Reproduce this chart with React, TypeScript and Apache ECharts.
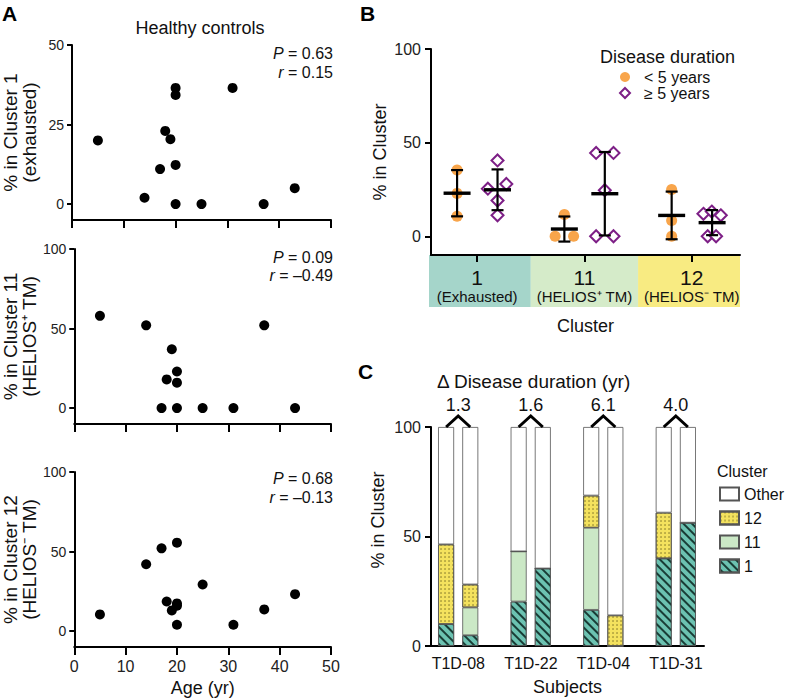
import React, { useEffect, useRef } from 'react';
import * as echarts from 'echarts';

const FONT = '"Liberation Sans", Arial, Helvetica, sans-serif';

// ---------- Panel A : healthy controls ----------
const ageA1 = [5, 14, 17, 18, 19, 20, 20, 20, 20, 25, 31, 37, 43];
const pctA1 = [20, 2, 11, 23, 20.4, 36.5, 34.3, 12.3, 0, 0, 36.5, 0, 5];
const ageA2 = [5, 14, 17, 18, 19, 20, 20, 20, 25, 31, 37, 43];
const pctA2 = [58, 52, 0, 18, 37, 23, 16, 0, 0, 0, 52, 0];
const ageA3 = [5, 14, 17, 18, 19, 20, 20, 20, 20, 25, 31, 37, 43];
const pctA3 = [10.5, 42, 52, 18.6, 13, 55.6, 17.4, 16, 4, 29.3, 4, 13.6, 23.2];
const pValuesA = ['0.63', '0.09', '0.68'];
const rValuesA = ['0.15', '–0.49', '–0.13'];
const yTitlesA = ['% in Cluster 1\n(exhausted)', '% in Cluster 11\n(HELIOS⁺ TM)', '% in Cluster 12\n(HELIOS⁻ TM)'];

// ---------- Panel B : clusters by disease duration ----------
const clusterNames = ['1', '11', '12'];
const clusterSubtitles = ['(Exhausted)', '(HELIOS⁺ TM)', '(HELIOS⁻ TM)'];
const shortDuration = [[35.4, 22.9, 10.7], [0, 0, 11.6], [25, 8.4, 0]];
const shortJitter = [[0, 0, 0], [-0.086, 0.086, 0], [0, 0, 0]];
const longDuration = [[25.4, 40.5, 27.9, 19.1, 11.2], [0, 0, 44.5, 44.5, 24.6], [12, 13.2, 11.2, 0, 0]];
const longJitter = [[-0.09, 0, 0.082, 0, 0], [-0.081, 0.081, -0.081, 0.081, 0], [-0.081, -0.003, 0.081, -0.041, 0.037]];
const bandColors = ['#a5d5ca', '#d5ebc9', '#f8eb82'];

// ---------- Panel C : longitudinal subjects ----------
const subjects = ['T1D-08', 'T1D-22', 'T1D-04', 'T1D-31'];
const durationChange = ['1.3', '1.6', '6.1', '4.0'];
// order: subject0 visit1, subject0 visit2, subject1 visit1, ...
const c1Values = [10, 4.9, 20.3, 35.4, 16.5, 0, 40, 56.3];
const c11Values = [0, 12.7, 22.9, 0, 37.5, 0, 0, 0];
const c12Values = [36.4, 10.5, 0, 0, 14.7, 14, 20.9, 0];
const otherValues = [53.6, 71.9, 56.8, 64.6, 31.3, 86, 39.1, 43.7];

const ORANGE = '#f8a54b';
const PURPLE = '#7d1f86';

function meanSd(a: number[]) {
  const m = a.reduce((s, v) => s + v, 0) / a.length;
  const v = a.reduce((s, x) => s + (x - m) * (x - m), 0) / (a.length - 1);
  return [m, Math.sqrt(v)];
}

function buildOption() {
  const axisLine = { show: true, onZero: false, lineStyle: { color: '#000', width: 2 } };
  const tick = (len: number) => ({ show: true, inside: false, length: len, lineStyle: { color: '#000', width: 2 } });
  const labelA = { color: '#222', fontSize: 14, fontFamily: FONT, margin: 8 };
  const nameStyle = { color: '#111', fontSize: 18, fontFamily: FONT, lineHeight: 19 };

  // slot layout for panel C: two visits per subject, one empty slot between subjects
  const slotCount = subjects.length * 3 - 1;
  const slotNames = Array.from({ length: slotCount }, (_, i) => 's' + i);
  const barSlot = (k: number) => Math.floor(k / 2) * 3 + (k % 2);

  const grids = [
    { left: 69, top: 45, width: 262, height: 175 },
    { left: 69, top: 249, width: 262, height: 175 },
    { left: 69, top: 472, width: 262, height: 175 },
    { left: 431, top: 49, width: 309, height: 206 },
    { left: 431, top: 255, width: 309, height: 52 },
    { left: 431, top: 427, width: 273, height: 219 },
    { left: 434, top: 427, width: 266, height: 219 },
  ];

  const xAxes: any[] = [0, 1, 2].map((i) => ({
    type: 'value', gridIndex: i, min: 0, max: 50, interval: 10,
    axisLine, axisTick: tick(8), splitLine: { show: false },
    axisLabel: i === 2 ? { ...labelA, fontSize: 16, margin: 11 } : { show: false },
    name: i === 2 ? 'Age (yr)' : '', nameLocation: 'middle', nameGap: 31, nameTextStyle: nameStyle,
  }));
  xAxes.push({
    type: 'value', gridIndex: 3, min: 0.57, max: 3.45,
    axisLine, splitLine: { show: false },
    axisTick: { ...tick(7), customValues: [1, 2, 3] },
    axisLabel: {
      customValues: [1, 2, 3], margin: 12, color: '#111',
      formatter: (v: number) => {
        const i = Math.round(v) - 1;
        return `{big|${clusterNames[i]}}\n{small|${clusterSubtitles[i]}}`;
      },
      rich: {
        big: { fontSize: 21, lineHeight: 21, fontFamily: FONT, color: '#111' },
        small: { fontSize: 15, lineHeight: 16, fontFamily: FONT, color: '#111' },
      },
    },
    name: 'Cluster', nameLocation: 'middle', nameGap: 61, nameTextStyle: nameStyle,
  });
  xAxes.push({ type: 'value', gridIndex: 4, min: 0.57, max: 3.45, show: false });
  xAxes.push({
    type: 'value', gridIndex: 5, min: -0.63, max: 10.66,
    axisLine, splitLine: { show: false }, axisTick: { show: false },
    axisLabel: {
      customValues: [0.5, 3.5, 6.5, 9.5], margin: 9, color: '#111', fontSize: 16, fontFamily: FONT,
      formatter: (v: number) => subjects[Math.round((v - 0.5) / 3)],
    },
    name: 'Subjects', nameLocation: 'middle', nameGap: 31, nameTextStyle: nameStyle,
  });
  xAxes.push({ type: 'category', gridIndex: 6, data: slotNames, show: false, boundaryGap: true });

  const yAxes: any[] = [
    { gridIndex: 0, min: -5, max: 50, ticks: [0, 25, 50] },
    { gridIndex: 1, min: -10, max: 100, ticks: [0, 50, 100] },
    { gridIndex: 2, min: -10, max: 100, ticks: [0, 50, 100] },
  ].map((d, i) => ({
    type: 'value', gridIndex: d.gridIndex, min: d.min, max: d.max,
    axisLine, splitLine: { show: false },
    axisTick: { ...tick(5), customValues: d.ticks },
    axisLabel: { ...labelA, customValues: d.ticks },
    name: yTitlesA[i], nameLocation: 'middle', nameGap: 33, nameRotate: 90,
    nameTextStyle: { ...nameStyle, fontSize: 19 },
  }));
  yAxes.push({
    type: 'value', gridIndex: 3, min: -10, max: 100,
    axisLine, splitLine: { show: false },
    axisTick: { ...tick(6), customValues: [0, 50, 100] },
    axisLabel: { color: '#222', fontSize: 16, fontFamily: FONT, margin: 10, customValues: [0, 50, 100] },
    name: '% in Cluster', nameLocation: 'middle', nameGap: 42, nameRotate: 90, nameTextStyle: nameStyle,
  });
  yAxes.push({ type: 'value', gridIndex: 4, min: 0, max: 1, show: false });
  yAxes.push({
    type: 'value', gridIndex: 5, min: 0, max: 100, interval: 50,
    axisLine, splitLine: { show: false }, axisTick: tick(6),
    axisLabel: { color: '#222', fontSize: 16, fontFamily: FONT, margin: 10 },
  });
  yAxes.push({ type: 'value', gridIndex: 6, min: 0, max: 100, show: false });

  const series: any[] = [];
  [[ageA1, pctA1], [ageA2, pctA2], [ageA3, pctA3]].forEach(([xs, ys], i) => {
    series.push({
      type: 'scatter', name: 'HC' + i, xAxisIndex: i, yAxisIndex: i,
      symbol: 'circle', symbolSize: 10, itemStyle: { color: '#000', opacity: 1 },
      data: xs.map((x, k) => [x, ys[k]]),
    });
  });

  // Panel B
  const OFF_SHORT = -0.187;
  const OFF_LONG = 0.19;
  series.push({
    type: 'custom', name: 'bands', xAxisIndex: 4, yAxisIndex: 4, z: -5, silent: true,
    data: clusterNames.map((_, i) => [i]),
    renderItem: (params: any, api: any) => {
      const i = api.value(0);
      const cs = params.coordSys;
      const lo = Math.max(i + 0.5, 0.57);
      const hi = Math.min(i + 1.5, 3.45);
      const x0 = api.coord([lo, 0])[0] - (i === 0 ? 2 : 0);
      const x1 = api.coord([hi, 0])[0];
      return { type: 'rect', shape: { x: x0, y: cs.y, width: x1 - x0, height: cs.height }, style: { fill: bandColors[i] } };
    },
  });
  series.push({
    type: 'scatter', name: '< 5 years', xAxisIndex: 3, yAxisIndex: 3,
    symbol: 'circle', symbolSize: 11, itemStyle: { color: ORANGE, opacity: 1 },
    data: shortDuration.flatMap((vals, c) => vals.map((v, k) => [c + 1 + OFF_SHORT + shortJitter[c][k], v])),
  });
  series.push({
    type: 'scatter', name: '≥ 5 years', xAxisIndex: 3, yAxisIndex: 3,
    symbol: 'diamond', symbolSize: 12, itemStyle: { color: '#fff', borderColor: PURPLE, borderWidth: 2, opacity: 1 },
    data: longDuration.flatMap((vals, c) => vals.map((v, k) => [c + 1 + OFF_LONG + longJitter[c][k], v])),
  });
  const summary: number[][] = [];
  clusterNames.forEach((_, c) => {
    summary.push([c + 1 + OFF_SHORT, ...meanSd(shortDuration[c])]);
    summary.push([c + 1 + OFF_LONG, ...meanSd(longDuration[c])]);
  });
  series.push({
    type: 'custom', name: 'meanSD', xAxisIndex: 3, yAxisIndex: 3, z: 6, silent: true,
    encode: { x: 0, y: 1 },
    data: summary,
    renderItem: (_p: any, api: any) => {
      const x = api.value(0), m = api.value(1), s = api.value(2);
      const pm = api.coord([x, m]);
      const pt = api.coord([x, m + s]);
      const pb = api.coord([x, m - s]);
      const st = { stroke: '#000', lineWidth: 2.2 };
      return {
        type: 'group',
        children: [
          { type: 'line', shape: { x1: pt[0], y1: pt[1], x2: pb[0], y2: pb[1] }, style: st },
          { type: 'line', shape: { x1: pt[0] - 6, y1: pt[1], x2: pt[0] + 6, y2: pt[1] }, style: st },
          { type: 'line', shape: { x1: pb[0] - 6, y1: pb[1], x2: pb[0] + 6, y2: pb[1] }, style: st },
          { type: 'line', shape: { x1: pm[0] - 13.5, y1: pm[1], x2: pm[0] + 13.5, y2: pm[1] }, style: { stroke: '#000', lineWidth: 3.4 } },
        ],
      };
    },
  });

  // Panel C
  const border = { borderColor: '#555', borderWidth: 0.8 };
  const mk = (name: string, vals: number[], itemStyle: any) => {
    const data: any[] = slotNames.map(() => '-');
    vals.forEach((v, k) => { data[barSlot(k)] = v; });
    return {
      type: 'bar', name, stack: 'c', xAxisIndex: 6, yAxisIndex: 6, barWidth: 16,
      itemStyle: { ...border, ...itemStyle },
      data,
    };
  };
  series.push(mk('1', c1Values, {
    color: '#6cc2b1',
    decal: { symbol: 'rect', symbolSize: 1, color: 'rgba(15,45,40,0.9)', dashArrayX: [1, 0], dashArrayY: [1.6, 3.4], rotation: Math.PI / 4 },
  }));
  series.push(mk('11', c11Values, { color: '#cbe8c6' }));
  series.push(mk('12', c12Values, {
    color: '#f4e25e',
    decal: { symbol: 'circle', symbolSize: 0.7, color: 'rgba(90,80,20,0.85)', dashArrayX: [[2, 2]], dashArrayY: [2, 2], rotation: 0 },
  }));
  series.push(mk('Other', otherValues, { color: '#ffffff' }));
  series.push({
    type: 'custom', name: 'chevrons', xAxisIndex: 6, yAxisIndex: 6, z: 6, silent: true, clip: false,
    encode: { x: 0, y: 1 },
    data: subjects.map((_, s) => [s * 3, 100, s]),
    renderItem: (_p: any, api: any) => {
      const slot = api.value(0);
      const s = api.value(2);
      const p1 = api.coord([slot, 100]);
      const p2 = api.coord([slot + 1, 100]);
      const ax = (p1[0] + p2[0]) / 2;
      const ay = p1[1] - 11;
      return {
        type: 'group',
        children: [
          { type: 'polyline', shape: { points: [[p1[0], p1[1]], [ax, ay], [p2[0], p2[1]]] }, style: { stroke: '#000', lineWidth: 3, fill: 'none' } },
          { type: 'text', x: ax, y: ay - 11, style: { text: durationChange[s], align: 'center', verticalAlign: 'middle', fontSize: 18, fontFamily: FONT, fill: '#111' } },
        ],
      };
    },
  });

  const txt = (text: string, x: number, y: number, extra: any = {}) => ({
    type: 'text', x, y, silent: true,
    style: { text, fontFamily: FONT, fontSize: 18, fill: '#111', verticalAlign: 'middle', ...extra },
  });
  const graphic: any[] = [
    txt('A', 2, 13, { fontSize: 21, fontWeight: 'bold', fill: '#000' }),
    txt('B', 360, 13, { fontSize: 21, fontWeight: 'bold', fill: '#000' }),
    txt('C', 358, 371, { fontSize: 21, fontWeight: 'bold', fill: '#000' }),
    txt('Healthy controls', 200, 28, { align: 'center' }),
    txt('Disease duration', 600, 57),
    txt('Δ Disease duration (yr)', 437, 381, { fontSize: 19 }),
    txt('Cluster', 717, 471, { fontSize: 16 }),
    { ...txt('% in Cluster', 378, 520, { align: 'center' }), rotation: Math.PI / 2 },
  ];
  const prY = [[53, 72], [257, 275], [478, 497]];
  const italic = { i: { fontStyle: 'italic', fontSize: 16, fontFamily: FONT, fill: '#111' } };
  prY.forEach(([py, ry], i) => {
    graphic.push(txt(`{i|P} = ${pValuesA[i]}`, 333, py, { align: 'right', fontSize: 16, rich: italic }));
    graphic.push(txt(`{i|r} = ${rValuesA[i]}`, 333, ry, { align: 'right', fontSize: 16, rich: italic }));
  });

  return {
    animation: false,
    textStyle: { fontFamily: FONT },
    grid: grids,
    xAxis: xAxes,
    yAxis: yAxes,
    legend: [
      {
        data: ['< 5 years', '≥ 5 years'], orient: 'vertical', left: 619, top: 69, padding: 0,
        itemWidth: 10, itemHeight: 10, itemGap: 0, selectedMode: false,
        textStyle: { fontSize: 16, lineHeight: 16, fontFamily: FONT, color: '#111', padding: [0, 0, 0, 9] },
      },
      {
        data: ['Other', '12', '11', '1'], orient: 'vertical', left: 719, top: 486, padding: 0,
        itemWidth: 19, itemHeight: 13, itemGap: 8, selectedMode: false, icon: 'rect',
        textStyle: { fontSize: 16, fontFamily: FONT, color: '#111' },
      },
    ],
    series,
    graphic,
  };
}

export default function App() {
  const ref = useRef<HTMLDivElement>(null);
  useEffect(() => {
    document.body.style.margin = '0';
    const chart = echarts.init(ref.current as HTMLDivElement, null, { renderer: 'svg' });
    chart.setOption(buildOption() as any);
    return () => chart.dispose();
  }, []);
  return <div ref={ref} style={{ width: 794, height: 698 }} />;
}
